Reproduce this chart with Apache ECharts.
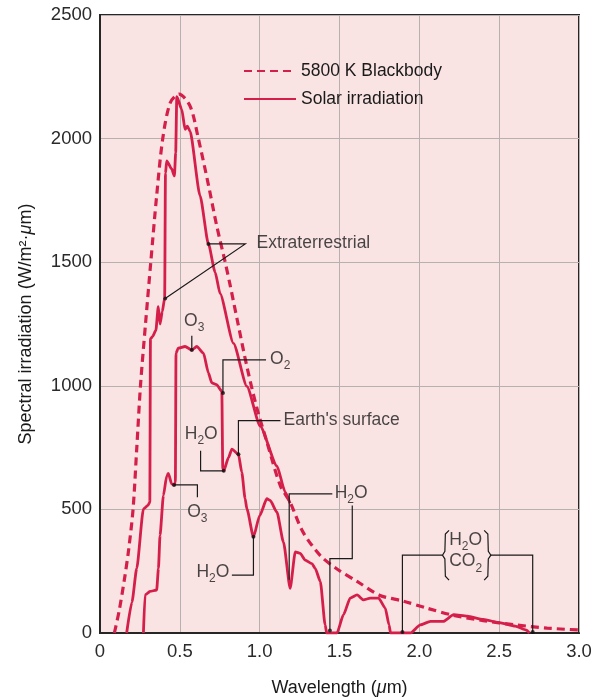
<!DOCTYPE html>
<html>
<head>
<meta charset="utf-8" />
<title>Spectral irradiation</title>
<style type="text/css">
	html, body { margin: 0; padding: 0; background: #fff; }
	#main { width: 597px; height: 697px; }
</style>
<script src="https://cdn.jsdelivr.net/npm/echarts/dist/echarts.min.js" type="text/javascript" charset="utf-8"></script>
</head>
<body>
<div id="main"></div>
<script type="text/javascript">
var FONT = 'Liberation Sans';
var RED = '#d41f4a';

// tick labels
var xTickLabels = ['0', '0.5', '1.0', '1.5', '2.0', '2.5', '3.0'];
var yTickLabels = ['0', '500', '1000', '1500', '2000', '2500'];

// [wavelength (um), spectral irradiation (W/m2.um)]
var blackbody = [
	[0.09, 0], [0.12, 90], [0.156, 230], [0.18, 340], [0.207, 500], [0.23, 745], [0.254, 1005],
	[0.285, 1250], [0.318, 1500], [0.355, 1770], [0.393, 2000], [0.44, 2145], [0.495, 2180],
	[0.565, 2130], [0.616, 2000], [0.68, 1810], [0.73, 1650], [0.784, 1500], [0.815, 1407],
	[0.86, 1265], [0.92, 1078], [0.98, 916], [1.04, 784], [1.13, 595], [1.19, 530], [1.27, 410],
	[1.38, 313], [1.48, 261], [1.61, 209], [1.75, 153], [1.9, 129], [2.05, 100], [2.21, 72],
	[2.4, 50], [2.6, 33], [2.8, 20], [3.0, 12]
];

var extraterrestrial = [
	[0.167, 0], [0.20, 125], [0.23, 261], [0.272, 502], [0.30, 516], [0.312, 530], [0.316, 1190],
	[0.33, 1200], [0.35, 1225], [0.365, 1320], [0.376, 1250], [0.39, 1300], [0.405, 1355],
	[0.41, 1860], [0.418, 1910], [0.449, 1877], [0.466, 1849], [0.474, 1943], [0.481, 2170],
	[0.512, 2118], [0.533, 2037], [0.547, 2050], [0.564, 2030], [0.627, 1768], [0.679, 1574],
	[0.721, 1460], [0.752, 1373], [0.836, 1172], [0.92, 998], [1.003, 837], [1.108, 676],
	[1.16, 570], [1.19, 525]
];

var surface = [
	[0.272, 0], [0.282, 154], [0.313, 168], [0.355, 174], [0.366, 261], [0.376, 395], [0.397, 556],
	[0.418, 636], [0.428, 646], [0.449, 603], [0.464, 599], [0.472, 610], [0.476, 1132],
	[0.49, 1152], [0.533, 1159], [0.575, 1145], [0.606, 1159], [0.648, 1132], [0.679, 1052],
	[0.70, 1012], [0.73, 1005], [0.763, 978], [0.769, 663], [0.775, 656], [0.805, 710],
	[0.826, 744], [0.867, 723], [0.888, 650], [0.909, 543], [0.92, 502], [0.961, 389],
	[1.0, 475], [1.045, 543], [1.066, 536], [1.108, 489], [1.149, 368], [1.191, 181],
	[1.223, 328], [1.254, 322], [1.285, 295], [1.327, 281], [1.348, 261], [1.38, 208],
	[1.41, 33], [1.42, 0], [1.484, 0], [1.525, 74], [1.567, 141], [1.61, 154], [1.65, 134],
	[1.693, 141], [1.745, 141], [1.787, 100], [1.81, 33], [1.82, 0], [1.944, 0], [2.006, 33],
	[2.07, 47], [2.15, 47], [2.215, 74], [2.3, 68], [2.4, 55], [2.5, 42], [2.6, 28],
	[2.67, 12], [2.69, 0]
];

// callout leader lines, in data units
var leaderLines = [
	[[0.679, 1574], [0.91, 1574], [0.408, 1353]],
	[[0.575, 1202], [0.575, 1145]],
	[[0.77, 971], [0.77, 1105], [1.04, 1105]],
	[[0.867, 723], [0.867, 859], [1.13, 859]],
	[[0.63, 737], [0.63, 656], [0.775, 656]],
	[[0.464, 599], [0.61, 599], [0.61, 549]],
	[[0.961, 389], [0.961, 234], [0.826, 234]],
	[[1.185, 215], [1.185, 563], [1.455, 563]],
	[[1.58, 516], [1.58, 301], [1.44, 301], [1.44, 10]],
	[[1.894, 0], [1.894, 315], [2.145, 315]],
	[[2.448, 315], [2.71, 315], [2.71, 0]],
	// braces round H2O / CO2
	[[2.186, 415], [2.163, 400], [2.16, 330], [2.145, 315], [2.16, 300], [2.163, 230], [2.186, 214]],
	[[2.406, 415], [2.429, 400], [2.432, 330], [2.448, 315], [2.432, 300], [2.429, 230], [2.406, 214]]
];
var leaderDots = [
	[0.679, 1574], [0.408, 1353], [0.575, 1145], [0.77, 971], [0.867, 723], [0.775, 656],
	[0.464, 599], [0.961, 389], [1.44, 10], [1.894, 4], [2.71, 4]
];

// [text, x, y, side]  ('_2' = subscript)
var notes = [
	['Extraterrestrial', 0.98, 1574, 'right'],
	['O_3', 0.59, 1258, 'inside'],
	['O_2', 1.065, 1104, 'right'],
	["Earth's surface", 1.15, 857, 'right'],
	['H_2O', 0.634, 802, 'inside'],
	['O_3', 0.61, 486, 'inside'],
	['H_2O', 0.81, 243, 'left'],
	['H_2O', 1.47, 563, 'right'],
	['H_2O', 2.29, 373, 'inside'],
	['CO_2', 2.29, 285, 'inside']
];

function toRich(s) {
	return ('{t|' + s.replace(/_(\d)/g, '}{s|$1}{t|') + '}').replace(/\{t\|\}/g, '');
}

var richStyle = {
	t: { fontFamily: FONT, fontSize: 17.5, color: '#1a1a1a', lineHeight: 20, verticalAlign: 'top' },
	s: { fontFamily: FONT, fontSize: 12, color: '#1a1a1a', lineHeight: 12, verticalAlign: 'top', padding: [10, 0, 0, 0] }
};
var nameRich = {
	a: { fontFamily: FONT, fontSize: 18, color: '#1a1a1a' },
	i: { fontFamily: FONT, fontSize: 18, color: '#1a1a1a', fontStyle: 'italic' }
};

var myChart = echarts.init(document.getElementById('main'), null, { renderer: 'canvas' });

var option = {
	backgroundColor: '#ffffff',
	animation: false,
	textStyle: { fontFamily: FONT },
	grid: {
		left: 100, right: 18, top: 15, bottom: 64,
		show: true, backgroundColor: '#fae3e3', borderColor: '#262626', borderWidth: 2,
		outerBoundsMode: 'none', containLabel: false
	},
	legend: {
		orient: 'vertical', left: 238, top: 57, itemWidth: 52, itemHeight: 16, itemGap: 10,
		data: ['5800 K Blackbody', 'Solar irradiation'],
		itemStyle: { color: 'rgba(0,0,0,0)', borderWidth: 0, opacity: 0 },
		textStyle: { fontFamily: FONT, fontSize: 17.5, color: '#1a1a1a' }
	},
	xAxis: {
		type: 'value', min: 0, max: 3, interval: 0.5,
		name: '{a|Wavelength (}{i|\u03bc}{a|m)}', nameLocation: 'middle', nameGap: 46,
		nameTextStyle: { fontFamily: FONT, fontSize: 18, color: '#1a1a1a', rich: nameRich },
		axisLine: { show: true, onZero: false, lineStyle: { color: '#262626', width: 2 } },
		axisTick: { show: false },
		axisLabel: {
			margin: 9, fontFamily: FONT, fontSize: 18.5, color: '#2a2a2a',
			formatter: function (v) { return xTickLabels[Math.round(v / 0.5)]; }
		},
		splitLine: { show: true, lineStyle: { color: '#b8afaf', width: 1 } }
	},
	yAxis: {
		type: 'value', min: 0, max: 2500, interval: 500,
		name: '{a|Spectral irradiation (W/m\u00b2\u00b7}{i|\u03bc}{a|m)}', nameLocation: 'middle', nameGap: 65,
		nameRotate: 90,
		nameTextStyle: { fontFamily: FONT, fontSize: 18, color: '#1a1a1a', rich: nameRich },
		axisLine: { show: true, onZero: false, lineStyle: { color: '#262626', width: 2 } },
		axisTick: { show: false },
		axisLabel: {
			margin: 8, fontFamily: FONT, fontSize: 18.5, color: '#2a2a2a',
			formatter: function (v) { return yTickLabels[Math.round(v / 500)]; }
		},
		splitLine: { show: true, lineStyle: { color: '#b8afaf', width: 1 } }
	},
	series: [
		{
			name: '5800 K Blackbody', type: 'line', data: blackbody,
			showSymbol: false, symbol: 'none', smooth: 0.3, z: 2,
			lineStyle: { color: RED, width: 3.2, type: [8, 5] },
			itemStyle: { color: RED }
		},
		{
			name: 'Solar irradiation', type: 'line', data: extraterrestrial,
			showSymbol: false, symbol: 'none', smooth: 0.2, smoothMonotone: 'x', z: 3,
			lineStyle: { color: RED, width: 2.8 },
			itemStyle: { color: RED }
		},
		{
			name: 'Solar irradiation', type: 'line', data: surface,
			showSymbol: false, symbol: 'none', smooth: 0.2, smoothMonotone: 'x', z: 3,
			lineStyle: { color: RED, width: 2.8 },
			itemStyle: { color: RED }
		},
		{
			type: 'lines', coordinateSystem: 'cartesian2d', polyline: true, z: 4, silent: true,
			lineStyle: { color: '#1a1a1a', width: 1.2, opacity: 1 },
			data: leaderLines.map(function (c) { return { coords: c }; })
		},
		{
			type: 'scatter', z: 5, silent: true, symbolSize: 4,
			itemStyle: { color: '#111' },
			data: leaderDots
		},
		{
			type: 'scatter', z: 6, silent: true, symbolSize: 0,
			data: notes.map(function (n) {
				return {
					value: [n[1], n[2]],
					label: {
						show: true, position: n[3], distance: 0,
						formatter: toRich(n[0]), rich: richStyle
					}
				};
			})
		}
	]
};
myChart.setOption(option);
</script>
</body>
</html>
